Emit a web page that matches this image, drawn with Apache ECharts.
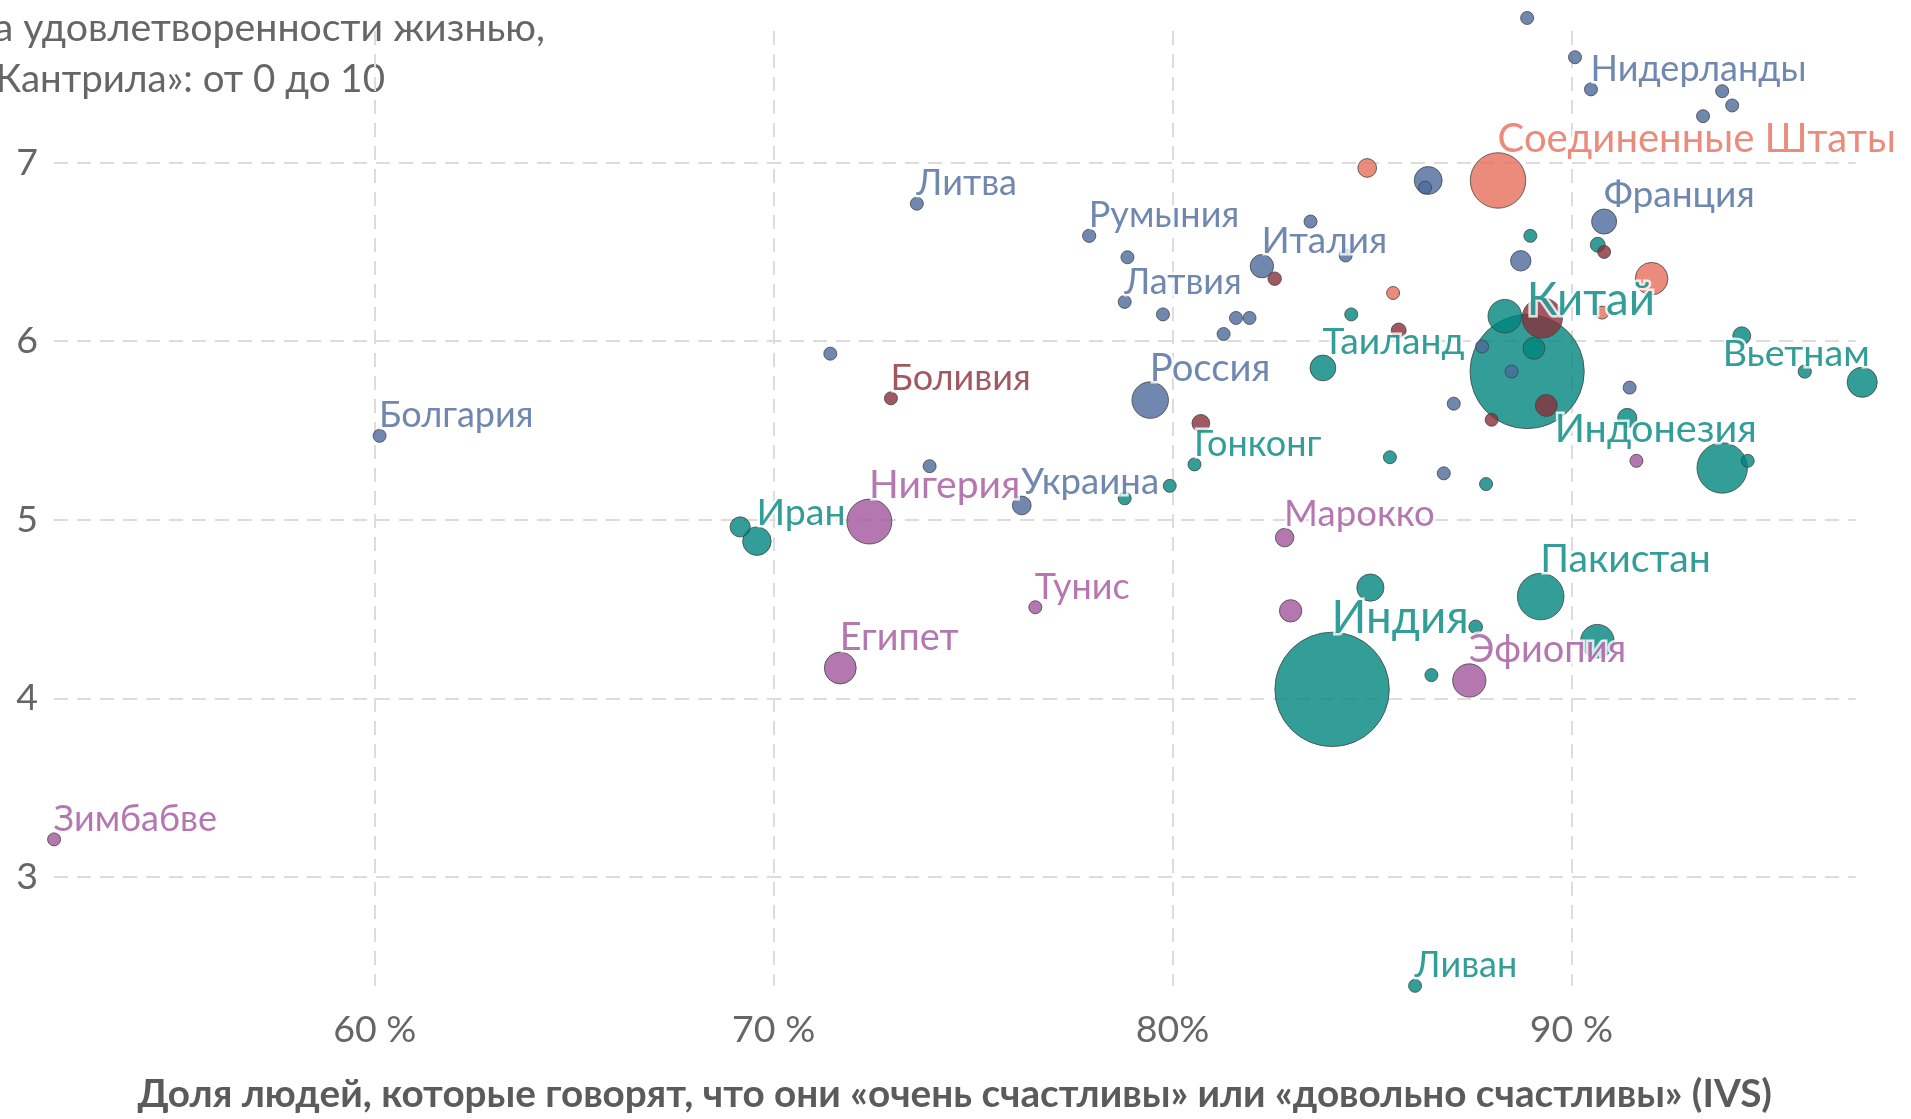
<!DOCTYPE html>
<html><head><meta charset="utf-8">
<script src="https://cdn.jsdelivr.net/npm/echarts@6/dist/echarts.min.js"></script>
<style>html,body{margin:0;padding:0;background:#fff;}#chart{width:1911px;height:1119px;}</style>
</head><body><div id="chart"></div>
<script>
// ---- data ----
const countries = [
 'Финляндия','Дания','Нидерланды','Норвегия','Швейцария','Швеция','Германия','Бельгия','Франция','Испания',
 'Румыния','Чехия','Италия','Словения','Хорватия','Латвия','Эстония','Кипр','Словакия','Венгрия',
 'Черногория','Россия','Албания','Болгария','Литва','Украина','Босния и Герцеговина','Северная Македония','Греция','Португалия','Беларусь',
 'Китай','Индия','Индонезия','Пакистан','Вьетнам','Таиланд','Гонконг','Иран','Ирак','Ливан',
 'Сингапур','Тайвань','Япония','Южная Корея','Малайзия','Монголия','Казахстан','Узбекистан','Кувейт','Таджикистан',
 'Киргизия','Армения','Азербайджан','Турция','Мьянма','Бангладеш','Иордания',
 'Нигерия','Египет','Тунис','Марокко','Эфиопия','Зимбабве','Кения','Ливия',
 'Соединенные Штаты','Канада','Мексика','Гватемала','Пуэрто-Рико',
 'Боливия','Бразилия','Чили','Уругвай','Колумбия','Эквадор','Аргентина','Перу'
];
// share of people "very" or "rather" happy, %
const happyShare = [
 88.89,90.09,90.49,93.78,94.03,93.30,86.41,86.33,90.82,88.73,
 77.91,83.46,82.24,84.34,78.87,78.80,79.76,81.59,81.93,81.28,
 71.42,79.44,73.91,60.12,73.59,76.22,87.76,88.50,87.05,91.46,86.80,
 88.89,84.00,93.78,89.23,97.29,83.77,80.55,69.58,69.16,86.08,
 88.97,90.66,88.33,89.06,91.40,94.42,95.85,94.27,84.48,85.45,
 87.86,79.93,78.80,84.96,87.60,90.65,86.49,
 72.40,71.67,76.56,82.81,87.44,51.96,82.96,91.63,
 88.16,84.88,92.01,85.53,90.77,
 72.94,89.27,82.56,90.82,89.37,88.00,85.67,80.71
];
// life satisfaction, Cantril ladder 0-10
const lifeSatisfaction = [
 7.81,7.59,7.41,7.40,7.32,7.26,6.90,6.86,6.67,6.45,
 6.59,6.67,6.42,6.48,6.47,6.22,6.15,6.13,6.13,6.04,
 5.93,5.67,5.30,5.47,6.77,5.08,5.97,5.83,5.65,5.74,5.26,
 5.83,4.05,5.29,4.57,5.77,5.85,5.31,4.88,4.96,2.39,
 6.59,6.54,6.14,5.96,5.57,5.33,5.83,6.03,6.15,5.35,
 5.20,5.19,5.12,4.62,4.40,4.32,4.13,
 4.99,4.17,4.51,4.90,4.10,3.21,4.49,5.33,
 6.90,6.97,6.35,6.27,6.16,
 5.68,6.13,6.35,6.50,5.64,5.56,6.06,5.54
];
// population, millions (bubble size)
const population = [
 5.5,5.9,17.6,5.4,8.7,10.4,84,11.6,68,45,
 19,10.5,59,2.1,3.9,1.9,1.3,1.2,5.4,9.7,
 0.6,144,2.8,6.5,2.8,38,3.2,2.1,10.4,10.3,9.2,
 1412,1417,275,235,98,72,7.4,88,44,5.5,
 5.6,23.9,122,52,40,3.4,19,35,4.3,9.8,
 6.7,2.8,10.1,80,20,122,11,
 218,110,12,37,120,16,54,6.8,
 333,38,115,17,3.2,
 12,175,19.6,3.4,52,18,24,34
];
const continent = [
 'Европа','Европа','Европа','Европа','Европа','Европа','Европа','Европа','Европа','Европа',
 'Европа','Европа','Европа','Европа','Европа','Европа','Европа','Европа','Европа','Европа',
 'Европа','Европа','Европа','Европа','Европа','Европа','Европа','Европа','Европа','Европа','Европа',
 'Азия','Азия','Азия','Азия','Азия','Азия','Азия','Азия','Азия','Азия',
 'Азия','Азия','Азия','Азия','Азия','Азия','Азия','Азия','Азия','Азия',
 'Азия','Азия','Азия','Азия','Азия','Азия','Азия',
 'Африка','Африка','Африка','Африка','Африка','Африка','Африка','Африка',
 'Северная Америка','Северная Америка','Северная Америка','Северная Америка','Северная Америка',
 'Южная Америка','Южная Америка','Южная Америка','Южная Америка','Южная Америка','Южная Америка','Южная Америка','Южная Америка'
];
const labelledCountries = ['Нидерланды','Соединенные Штаты','Франция','Литва','Румыния','Италия','Латвия','Китай','Таиланд','Вьетнам',
 'Россия','Боливия','Болгария','Индонезия','Гонконг','Нигерия','Украина','Иран','Марокко','Пакистан','Тунис','Египет','Индия','Эфиопия','Зимбабве','Ливан'];
const xTickValues = [60, 70, 80, 90];
const xTickLabels = ['60 %', '70 %', '80%', '90 %'];
const yTickValues = [3, 4, 5, 6, 7];
const yTickLabels = ['3', '4', '5', '6', '7'];
const xAxisTitle = 'Доля людей, которые говорят, что они «очень счастливы» или «довольно счастливы» (IVS)';
const yAxisTitle = ['Оценка удовлетворенности жизнью,', '«Лестница Кантрила»: от 0 до 10'];

// ---- styles ----
const continentColor = {'Европа':'#4C6A9C','Азия':'#00847E','Африка':'#A2559C','Северная Америка':'#E56E5A','Южная Америка':'#883039','Океания':'#9A5129'};
const labelPlacement = {'Вьетнам':{align:'right',dx:8},'Индонезия':{align:'left',dx:-167}};
const FONT = 'Lato, "Noto Sans", sans-serif';
function radius(p){ return Math.max(6.5, 1.52*Math.sqrt(p)); }
function labelSize(r){ return 34.8 + 0.19*r; }

const items = countries.map((name,i)=>{
  const col = continentColor[continent[i]];
  const show = labelledCountries.indexOf(name) >= 0;
  const pl = labelPlacement[name] || {align:'left',dx:0};
  const r = radius(population[i]);
  const fs = labelSize(r);
  return {
    name: name,
    value: [happyShare[i], lifeSatisfaction[i], population[i]],
    symbolSize: 2*r,
    itemStyle: {color: col},
    label: {
      show: show,
      formatter: '{b}',
      position: [r + pl.dx, 0.43*fs - 10.5],
      align: pl.align,
      verticalAlign: 'bottom',
      color: col,
      fontSize: fs
    }
  };
}).sort((a,b)=> b.value[2]-a.value[2]);

const chart = echarts.init(document.getElementById('chart'), null, {renderer:'canvas'});
chart.setOption({
  animation: false,
  backgroundColor: '#fff',
  grid: {left: 54, right: 55.5, top: 31, bottom: 129, containLabel: false},
  xAxis: {
    type: 'value', min: 51.958, max: 97.122,
    axisLine: {show:false}, axisTick: {show:false},
    splitLine: {show:true, showMinLine:false, showMaxLine:false, lineStyle:{color:'#dcdcdc', width:2, type:[14,9]}},
    axisLabel: {
      showMinLabel:false, showMaxLabel:false, margin: 25,
      color:'#666', fontFamily: FONT, fontSize: 37.5,
      formatter: v => { const k = xTickValues.indexOf(Math.round(v*1000)/1000); return k>=0 ? xTickLabels[k] : ''; }
    },
    name: xAxisTitle, nameLocation: 'middle', nameGap: 89,
    nameTextStyle: {color:'#5b5b5b', fontFamily: FONT, fontSize: 38.7, fontWeight: 'bold'}
  },
  yAxis: {
    type: 'value', min: 2.389, max: 7.737,
    axisLine: {show:false}, axisTick: {show:false},
    splitLine: {show:true, showMinLine:false, showMaxLine:false, lineStyle:{color:'#dcdcdc', width:2, type:[14,9]}},
    axisLabel: {
      showMinLabel:false, showMaxLabel:false, margin: 16,
      color:'#666', fontFamily: FONT, fontSize: 37.5,
      formatter: v => { const k = yTickValues.indexOf(Math.round(v*1000)/1000); return k>=0 ? yTickLabels[k] : ''; }
    }
  },
  graphic: [
    {type:'text', x:545, y:28, silent:true, style:{text:yAxisTitle[0], fill:'#666', font:'39.3px '+FONT, align:'right', verticalAlign:'middle'}},
    {type:'text', x:385, y:80, silent:true, style:{text:yAxisTitle[1], fill:'#666', font:'38.5px '+FONT, align:'right', verticalAlign:'middle'}}
  ],
  series: [{
    type: 'scatter',
    clip: false,
    silent: true,
    emphasis: {disabled: true},
    itemStyle: {opacity: 0.8, borderColor: '#444', borderWidth: 1},
    label: {fontFamily: FONT, textBorderColor:'#fff', textBorderWidth: 5},
    labelLayout: {hideOverlap: false},
    data: items
  }]
});
</script></body></html>
